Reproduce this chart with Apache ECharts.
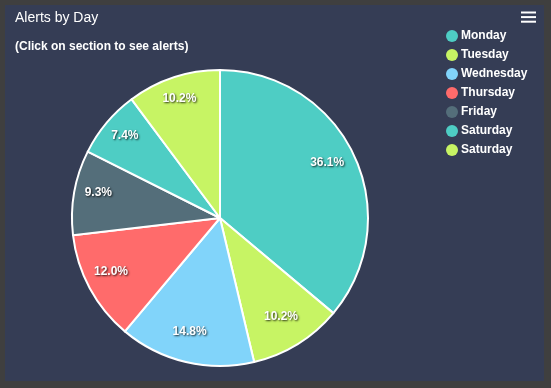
<!DOCTYPE html>
<html><head><meta charset="utf-8">
<script src="https://cdn.jsdelivr.net/npm/echarts@6/dist/echarts.min.js"></script>
<style>
html,body{margin:0;padding:0;background:#3f3f3f;width:551px;height:388px;overflow:hidden}
#frame{position:absolute;left:5px;top:5px;width:539px;height:376px;background:#353d55}
#chart{position:absolute;left:0;top:0;width:551px;height:388px}
</style></head>
<body><div id="frame"></div><div id="chart"></div>
<script>
const categories = ['Monday','Tuesday','Wednesday','Thursday','Friday','Saturday','Saturday'];
const alertCounts = [39, 11, 16, 13, 10, 8, 11];
const colors = ['#4ecdc4','#c7f464','#81d4fa','#ff6b6b','#546e7a','#4ecdc4','#c7f464'];
const titleText = 'Alerts by Day';
const subtitleText = '(Click on section to see alerts)';

const FONT = '"Liberation Sans", Arial, sans-serif';
const data = categories.map((c, i) => ({ name: c + '#' + i, value: alertCounts[i], itemStyle: { color: colors[i] } }));
const chart = echarts.init(document.getElementById('chart'), null, { renderer: 'canvas' });
chart.setOption({
  backgroundColor: 'transparent',
  animation: false,
  title: [
    { text: titleText, left: 10, top: 6, textStyle: { color: '#ffffff', fontSize: 14, fontWeight: 'normal', fontFamily: FONT } },
    { text: subtitleText, left: 10, top: 36, textStyle: { color: '#ffffff', fontSize: 12, fontWeight: 'bold', fontFamily: FONT } }
  ],
  legend: {
    orient: 'vertical', left: 441, top: 25, icon: 'circle', itemWidth: 12, itemHeight: 12, itemGap: 7,
    selectedMode: false,
    itemStyle: { borderWidth: 0 },
    formatter: n => n.split('#')[0],
    textStyle: { color: '#ffffff', fontSize: 12, fontWeight: 'bold', fontFamily: FONT, padding: [0,0,0,-2] },
    data: data.map(d => d.name)
  },
  graphic: [0, 1, 2].map(k => ({
    type: 'rect', shape: { x: 521, y: 11.5 + k * 4.6, width: 15, height: 2 }, style: { fill: '#ffffff' }, silent: true
  })),
  series: [
    {
      type: 'pie', center: [220, 218], radius: [0, 148], startAngle: 90, clockwise: true,
      label: { show: false }, labelLine: { show: false },
      itemStyle: { borderColor: '#ffffff', borderWidth: 2 },
      emphasis: { disabled: true },
      data: data
    },
    {
      type: 'pie', center: [217.5, 213.8], radius: [88, 148], startAngle: 90, clockwise: true, silent: true,
      itemStyle: { color: 'transparent', borderWidth: 0 },
      label: {
        show: true, position: 'inside', color: '#ffffff', fontSize: 12, fontWeight: 'bold', fontFamily: FONT,
        textShadowColor: 'rgba(0,0,0,0.8)', textShadowBlur: 2, textShadowOffsetX: 1, textShadowOffsetY: 1,
        formatter: p => p.percent.toFixed(1) + '%'
      },
      labelLine: { show: false },
      emphasis: { disabled: true },
      data: data.map(d => ({ name: d.name, value: d.value, itemStyle: { color: 'transparent' } }))
    }
  ]
});
</script></body></html>
